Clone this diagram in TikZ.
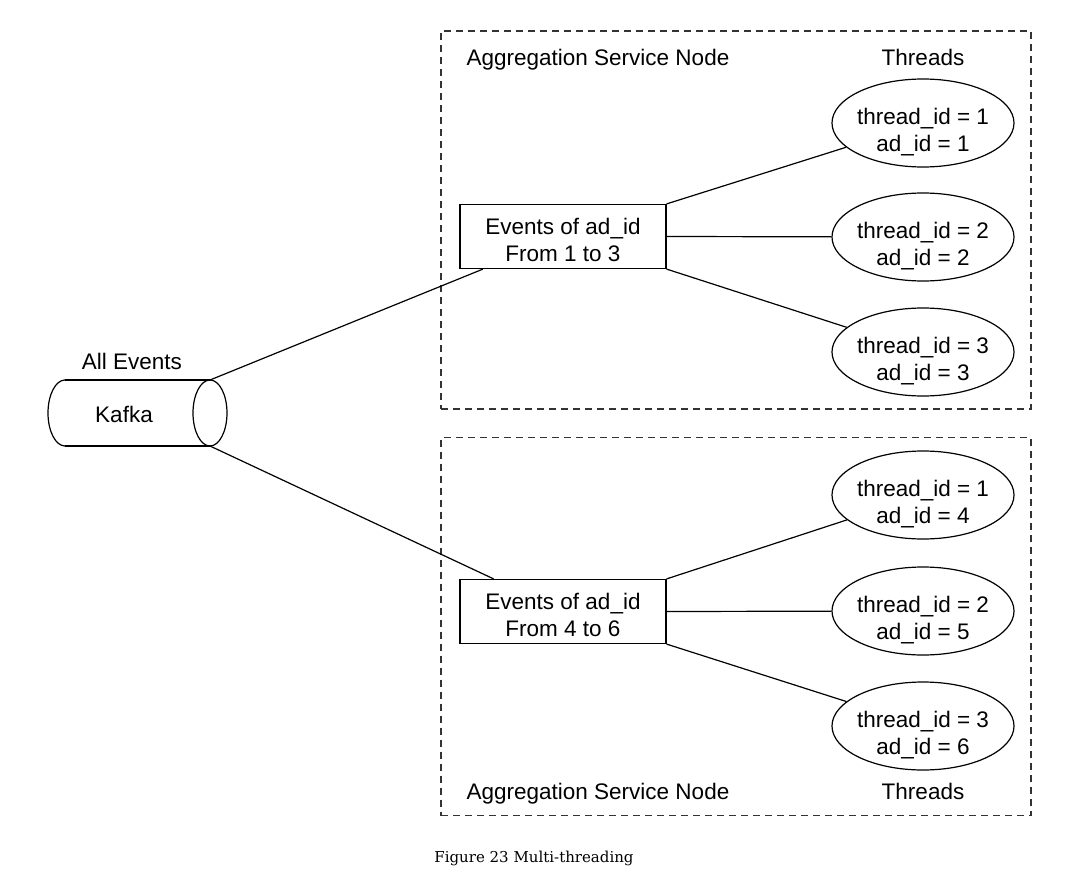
\documentclass[tikz,border=0pt]{standalone}
\usepackage{fontspec}
\setmainfont{Liberation Sans}
\newfontfamily\capfont{DejaVu Serif}
\usetikzlibrary{shapes.geometric}
\newcommand\thrup{\rule{0pt}{35pt}}
\newcommand\evup{\rule{0pt}{22.5pt}}
\begin{document}
\begin{tikzpicture}[x=1pt,y=-1pt,line width=1.2pt,
  lbl/.style={font=\fontsize{22.5}{27}\selectfont, inner sep=0pt, text height=16.5pt, text depth=5pt},
  thread/.style={draw, ellipse, minimum width=182pt, minimum height=88pt, inner xsep=-3pt, inner ysep=-3pt, align=center, font=\fontsize{22.5}{27}\selectfont},
  evbox/.style={draw, rectangle, minimum width=206pt, minimum height=64pt, inner sep=0pt, align=center, font=\fontsize{22.5}{27}\selectfont},
  grp/.style={draw=black!80, dash pattern=on 7pt off 5pt, line width=1.1pt, minimum width=590pt, minimum height=378pt, inner sep=0pt},
  link/.style={draw=black, line width=1.2pt}]
\useasboundingbox (0,0) rectangle (1071,875);
% group boxes
\node[grp] (g1) at (736,220) {};
\node[grp] (g2) at (736,626.5) {};
% labels
\node[lbl] (agg1) at (598,60) {Aggregation Service Node};
\node[lbl] (thr1) at (923,60) {Threads};
\node[lbl] (agg2) at (598,794) {Aggregation Service Node};
\node[lbl] (thr2) at (923,794) {Threads};
% event boxes
\node[evbox] (ev1) at (563,236.5) {\evup Events of ad\_id\\From 1 to 3};
\node[evbox] (ev2) at (563,611.5) {\evup Events of ad\_id\\From 4 to 6};
% threads
\node[thread] (t11) at (923,123) {\thrup thread\_id = 1\\ad\_id = 1};
\node[thread] (t12) at (923,237) {\thrup thread\_id = 2\\ad\_id = 2};
\node[thread] (t13) at (923,352) {\thrup thread\_id = 3\\ad\_id = 3};
\node[thread] (t21) at (923,495) {\thrup thread\_id = 1\\ad\_id = 4};
\node[thread] (t22) at (923,611) {\thrup thread\_id = 2\\ad\_id = 5};
\node[thread] (t23) at (923,726) {\thrup thread\_id = 3\\ad\_id = 6};
% kafka cylinder
\draw (65,380) -- (210,380);
\draw (65,446) -- (210,446);
\draw (65,380) arc[start angle=90,end angle=270,x radius=17pt,y radius=33pt];
\draw (210,413) ellipse [x radius=17pt, y radius=33pt];
\coordinate (kt) at (210,380);
\coordinate (kb) at (210,446);
\node[lbl] (kafka) at (124,417) {Kafka};
\node[lbl] (allev) at (132,364) {All Events};
% connectors
\draw[link] (kt) -- (ev1);
\draw[link] (kb) -- (ev2);
\draw[link] (ev1.north east) -- (t11);
\draw[link] (ev1.east) -- (t12);
\draw[link] (ev1.south east) -- (t13);
\draw[link] (ev2.north east) -- (t21);
\draw[link] (ev2.east) -- (t22);
\draw[link] (ev2.south east) -- (t23);
% caption
\node[font=\capfont\fontsize{15}{18}\selectfont, inner sep=0pt] (cap) at (534,858) {Figure 23 Multi-threading};
\end{tikzpicture}
\end{document}
